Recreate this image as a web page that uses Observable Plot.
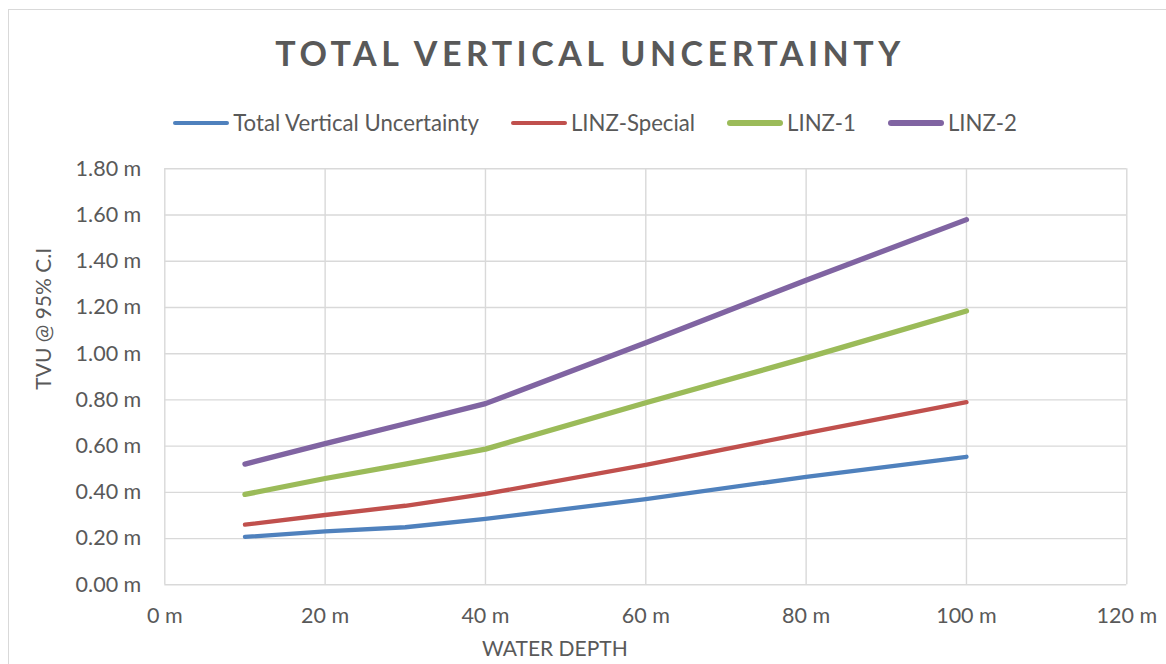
<!DOCTYPE html>
<html>
<head>
<meta charset="utf-8">
<script src="https://cdn.jsdelivr.net/npm/d3@7"></script>
<script src="https://cdn.jsdelivr.net/npm/@observablehq/plot@0.6"></script>
<style>
  html, body { margin: 0; padding: 0; background: #fff; }
  #wrap { position: relative; width: 1166px; height: 664px; overflow: hidden; font-family: Lato, "Open Sans", sans-serif; color: #595959; }
  #border { position: absolute; left: 8px; top: 9px; width: 1170px; height: 670px; border: 1.3px solid #d9d9d9; box-sizing: border-box; }
  #title { position: absolute; left: 0; width: 1180px; top: 32.5px; text-align: center; font-weight: 700; font-size: 34px; letter-spacing: 4.5px; line-height: 40px; white-space: nowrap; }
  #legend { position: absolute; left: 0; width: 1190px; top: 111px; display: flex; justify-content: center; font-size: 22.2px; line-height: 24px; white-space: nowrap; }
  .item { display: flex; align-items: center; margin: 0 16px; }
  .swatch { display: inline-block; width: 56px; border-radius: 3px; margin-right: 4px; }
  #chart { position: absolute; left: 0; top: 150px; }
</style>
</head>
<body>
<div id="wrap">
  <div id="border"></div>
  <div id="title"></div>
  <div id="legend"></div>
  <div id="chart"></div>
</div>
<script>
// ---- data ----
const titleText = "TOTAL VERTICAL UNCERTAINTY";
const xTitle = "WATER DEPTH";
const yTitle = "TVU @ 95% C.I";
const seriesNames = ["Total Vertical Uncertainty", "LINZ-Special", "LINZ-1", "LINZ-2"];
const seriesColors = ["#4f81bd", "#c0504d", "#9bbb59", "#8064a2"];
const seriesWidths = [4.3, 4.3, 5.3, 5.3];
const depth = [10, 20, 30, 40, 60, 80, 100];
const tvu = [0.207, 0.231, 0.249, 0.285, 0.371, 0.467, 0.554];
const linzSpecial = [0.260, 0.302, 0.342, 0.393, 0.519, 0.656, 0.790];
const linz1 = [0.391, 0.460, 0.522, 0.587, 0.788, 0.982, 1.185];
const linz2 = [0.522, 0.611, 0.697, 0.784, 1.047, 1.318, 1.580];
const xTicks = [0, 20, 40, 60, 80, 100, 120];
const xTickLabels = ["0 m", "20 m", "40 m", "60 m", "80 m", "100 m", "120 m"];
const yTicks = [0, 0.2, 0.4, 0.6, 0.8, 1.0, 1.2, 1.4, 1.6, 1.8];
const yTickLabels = ["0.00 m", "0.20 m", "0.40 m", "0.60 m", "0.80 m", "1.00 m", "1.20 m", "1.40 m", "1.60 m", "1.80 m"];

// ---- build table ----
const seriesValues = [tvu, linzSpecial, linz1, linz2];
const rows = [];
seriesNames.forEach((name, s) => {
  depth.forEach((d, i) => rows.push({series: name, depth: d, value: seriesValues[s][i]}));
});

// ---- title & legend ----
document.getElementById("title").textContent = titleText;
const legend = document.getElementById("legend");
seriesNames.forEach((name, s) => {
  const item = document.createElement("div");
  item.className = "item";
  const sw = document.createElement("span");
  sw.className = "swatch";
  sw.style.background = seriesColors[s];
  sw.style.height = seriesWidths[s] + "px";
  item.appendChild(sw);
  const t = document.createElement("span");
  t.textContent = name;
  item.appendChild(t);
  legend.appendChild(item);
});

const grid = "#d9d9d9";
const chart = Plot.plot({
  width: 1166,
  height: 514,
  marginLeft: 164.3,
  marginRight: 39.7,
  marginTop: 18.3,
  marginBottom: 79.7,
  style: { fontFamily: "Lato, 'Open Sans', sans-serif", fontSize: "21.5px", color: "#595959", background: "transparent" },
  x: { domain: [0, 120] },
  y: { domain: [0, 1.8] },
  marks: [
    Plot.ruleY(yTicks, { stroke: grid, strokeWidth: 1.4 }),
    Plot.ruleX(xTicks, { stroke: grid, strokeWidth: 1.4 }),
    Plot.axisY(yTicks, { tickSize: 0, tickPadding: 23.5, tickFormat: (d, i) => yTickLabels[i], label: null, fontSize: 21.5 }),
    Plot.axisX(xTicks, { tickSize: 0, tickPadding: 23, tickFormat: (d, i) => xTickLabels[i], label: null, fontSize: 21.5 }),
    Plot.line(rows, {
      x: "depth", y: "value", z: "series",
      stroke: d => seriesColors[seriesNames.indexOf(d.series)],
      strokeWidth: d => seriesWidths[seriesNames.indexOf(d.series)],
      strokeLinecap: "round", strokeLinejoin: "round"
    }),
    Plot.text([yTitle], { frameAnchor: "left", textAnchor: "middle", dx: -121, dy: -58, rotate: -90, fontSize: 21, fill: "#595959" }),
    Plot.text([xTitle], { frameAnchor: "bottom", textAnchor: "middle", lineAnchor: "middle", dx: -91, dy: 64, fontSize: 21, fill: "#595959" })
  ]
});
document.getElementById("chart").appendChild(chart);
</script>
</body>
</html>
